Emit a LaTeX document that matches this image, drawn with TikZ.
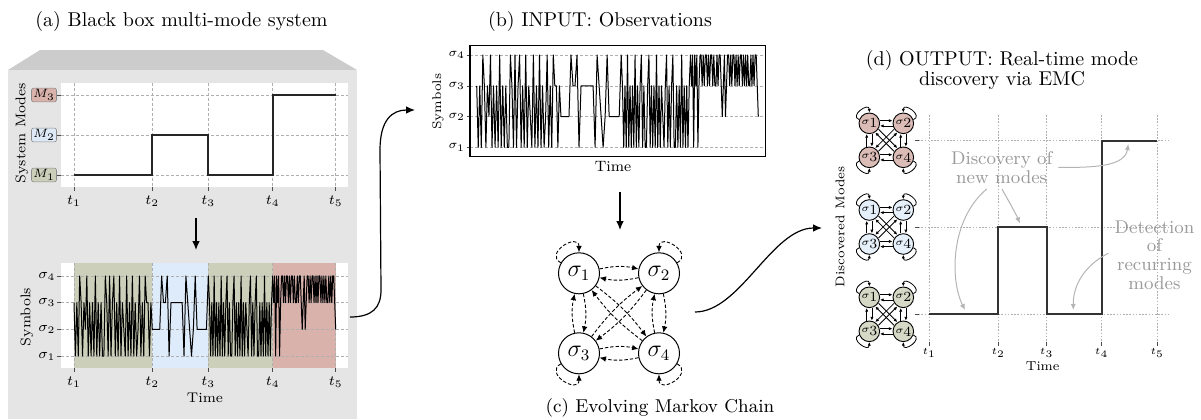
\documentclass[tikz,border=0pt]{standalone}
\usetikzlibrary{arrows.meta}
\definecolor{boxtop}{HTML}{CCCCCC}
\definecolor{boxbg}{HTML}{E5E5E5}
\definecolor{bandG}{HTML}{CCD0BA}
\definecolor{bandB}{HTML}{DEEBFA}
\definecolor{bandR}{HTML}{D9B2AC}
\definecolor{labG}{HTML}{CBCFB9}
\definecolor{labB}{HTML}{DDE9F6}
\definecolor{labR}{HTML}{D9B2AC}
\definecolor{gridc}{HTML}{AFAFAF}
\definecolor{annot}{HTML}{9A9A9A}
\definecolor{arrowg}{HTML}{B4B4B4}
\definecolor{miniR}{HTML}{DCBCB6}
\definecolor{miniB}{HTML}{E6F0FB}
\definecolor{miniG}{HTML}{D5D9C5}

\def\segA{3,1,3,1,4,3,1,3,2,4,1,3,1,3,1,4,1,3,1,3,1,1,4,3,1,4,1,3,4,1,3,1,4,1,3,2,1,4,1,3,1,4,1,3,1,2,4,1,3,1,4,3,3,1,3}
\def\segB{2,2,2,2,2,4,3,3,4,1,3,3,3,3,3,3,3,1,4,3,2,1,2,4,2,2,2,2,2,2}
\def\segC{4,3,1,3,1,4,1,3,1,3,1,4,1,3,1,3,4,1,3,1,1,3,4,1,3,1,3,1,4,1,3,1,3,2,1,3,4,1,3,1,3,4,1,1,3,1,3,1,4,1,3,1,3,1,3}
\def\segD{4,3,4,1,4,3,4,1,3,4,4,3,4,3,4,4,3,4,3,4,4,3,4,3,3,4,3,4,4,3,2,3,4,2,3,4,4,3,4,3,4,4,3,4,3,4,3,4,4,3,4,3,4,3,4,3,3,4,3,4,3,4,4,3,2}

\newcommand\cntlist[2]{\foreach \q [count=\c] in #2 {\xdef#1{\c}}}

\newcommand\drawsignal[7]{%
  \pgfmathsetmacro\dxa{(#2-#1)/\nA}%
  \pgfmathsetmacro\dxb{(#3-#2)/\nB}%
  \pgfmathsetmacro\dxc{(#4-#3)/\nC}%
  \pgfmathsetmacro\dxd{(#5-#4)/(\nD-1)}%
  \draw[sigline] (#1,{2*#7-#6})
    \foreach \v [count=\k] in \segA { -- ({#1+(\k-1)*\dxa},{(\v-1)*#7-#6}) }
    \foreach \v [count=\k] in \segB { -- ({#2+(\k-1)*\dxb},{(\v-1)*#7-#6}) }
    \foreach \v [count=\k] in \segC { -- ({#3+(\k-1)*\dxc},{(\v-1)*#7-#6}) }
    \foreach \v [count=\k] in \segD { -- ({#4+(\k-1)*\dxd},{(\v-1)*#7-#6}) };
}

\newcommand\mlab[1]{{\fontsize{5}{5}\selectfont\raisebox{1.5pt}{$\sigma$}}\kern-0.2pt{\fontsize{7}{7}\selectfont #1}}

\newcommand\minichain[4]{%
  \node[mini, fill=#4] (#1a) at (#2,-#3) {\mlab{1}};
  \node[mini, fill=#4] (#1b) at ({#2+34},-#3) {\mlab{2}};
  \node[mini, fill=#4] (#1c) at (#2,{-(#3+34)}) {\mlab{3}};
  \node[mini, fill=#4] (#1d) at ({#2+34},{-(#3+34)}) {\mlab{4}};
  \draw[miniedge] ([yshift=1.3pt]#1a.east) -- ([yshift=1.3pt]#1b.west);
  \draw[miniedge] ([yshift=-1.3pt]#1b.west) -- ([yshift=-1.3pt]#1a.east);
  \draw[miniedge] ([yshift=1.3pt]#1c.east) -- ([yshift=1.3pt]#1d.west);
  \draw[miniedge] ([yshift=-1.3pt]#1d.west) -- ([yshift=-1.3pt]#1c.east);
  \draw[miniedge] ([xshift=-1.3pt]#1c.north) -- ([xshift=-1.3pt]#1a.south);
  \draw[miniedge] ([xshift=1.3pt]#1a.south) -- ([xshift=1.3pt]#1c.north);
  \draw[miniedge] ([xshift=-1.3pt]#1d.north) -- ([xshift=-1.3pt]#1b.south);
  \draw[miniedge] ([xshift=1.3pt]#1b.south) -- ([xshift=1.3pt]#1d.north);
  \draw[miniedge] ([shift={(0.8pt,0.8pt)}]#1a.-45) -- ([shift={(0.8pt,0.8pt)}]#1d.135);
  \draw[miniedge] ([shift={(-0.8pt,-0.8pt)}]#1d.135) -- ([shift={(-0.8pt,-0.8pt)}]#1a.-45);
  \draw[miniedge] ([shift={(-0.8pt,0.8pt)}]#1b.-135) -- ([shift={(-0.8pt,0.8pt)}]#1c.45);
  \draw[miniedge] ([shift={(0.8pt,-0.8pt)}]#1c.45) -- ([shift={(0.8pt,-0.8pt)}]#1b.-135);
  \draw[miniedge] (#1a.160) .. controls +(160:11) and +(90:11) .. (#1a.90);
  \draw[miniedge] (#1b.20) .. controls +(20:11) and +(90:11) .. (#1b.90);
  \draw[miniedge] (#1c.200) .. controls +(200:11) and +(270:11) .. (#1c.270);
  \draw[miniedge] (#1d.340) .. controls +(340:11) and +(270:11) .. (#1d.270);
}

\begin{document}
\begin{tikzpicture}[x=0.5pt,y=0.5pt,
  gridline/.style={draw=gridc, line width=0.4pt, dash pattern=on 1.5pt off 1pt},
  dotgrid/.style={draw=gridc, line width=0.4pt, dash pattern=on 0.8pt off 0.8pt},
  tickmark/.style={draw=black!70, line width=0.4pt},
  sigline/.style={draw=black, line width=0.5pt, line join=round},
  stepline/.style={draw=black!85, line width=0.9pt},
  ticklab/.style={font=\fontsize{7}{8}\selectfont, inner sep=0pt},
  axlab/.style={font=\fontsize{7}{8}\selectfont, inner sep=0pt},
  modelab/.style={draw=black!45, line width=0.3pt, rounded corners=1pt, inner sep=0.8pt, font=\fontsize{6.5}{7}\selectfont, minimum height=6.2pt, minimum width=10pt},
  ptitle/.style={font=\fontsize{10}{12}\selectfont, anchor=base, inner sep=0pt},
  bigarrow/.style={-{Latex[length=4.5pt,width=3.8pt]}, line width=0.6pt},
  mcstate/.style={circle, draw, line width=0.5pt, minimum size=20.5pt, inner sep=0pt, font=\large},
  mcedge/.style={-{Latex[length=3.2pt,width=2.8pt]}, line width=0.45pt, dash pattern=on 1.7pt off 1pt},
  mini/.style={circle, draw, line width=0.45pt, minimum size=10.3pt, inner sep=0pt},
  miniedge/.style={-{Latex[length=1.8pt,width=1.6pt]}, line width=0.4pt},
  annotext/.style={text=annot, font=\fontsize{9.2}{9.5}\selectfont, anchor=base, inner sep=0pt},
  annoarrow/.style={draw=arrowg, line width=0.5pt, -{Latex[length=3pt,width=2.6pt]}},
]
\useasboundingbox (0,0) rectangle (1201,-419);
\cntlist\nA\segA
\cntlist\nB\segB
\cntlist\nC\segC
\cntlist\nD\segD

% ================= (a) =================
\node[ptitle] (tta) at (181.5,-26) {(a) Black box multi-mode system};
\fill[boxtop] (40,-50) -- (323,-50) -- (357,-70) -- (8,-70) -- cycle;
\fill[boxbg] (8,-70) rectangle (357,-419);

% top plot
\fill[white] (61,-82.7) rectangle (348,-186.7);
\foreach \x in {74,152.3,208.3,272.7,335.7} {
  \draw[gridline] (\x,-82.7) -- (\x,-186.7);
  \draw[tickmark] (\x,-186.7) -- (\x,-190.5);
}
\foreach \y in {95,135,175} {
  \draw[gridline] (61,-\y) -- (348,-\y);
  \draw[tickmark] (57,-\y) -- (61,-\y);
}
\foreach \x [count=\tn] in {74,152.3,208.3,272.7,335.7}
  \node[ticklab] (atl\tn) at (\x,-201) {$t_{\tn}$};
\node[modelab, fill=labR] (m3) at (44,-95) {$M_3$};
\node[modelab, fill=labB] (m2) at (44,-135) {$M_2$};
\node[modelab, fill=labG] (m1) at (44,-175) {$M_1$};
\node[axlab, rotate=90] (asys) at (22,-133) {System Modes};
\draw[stepline] (74,-175) -- (152.3,-175) -- (152.3,-135) -- (208.3,-135) -- (208.3,-175)
  -- (272.7,-175) -- (272.7,-95) -- (335.7,-95);

\coordinate (adn1) at (196,-218);
\coordinate (adn2) at (196,-250);
\draw[bigarrow] (adn1) -- (adn2);

% bottom plot
\fill[white] (61,-263) rectangle (348,-368);
\fill[bandG] (74,-263) rectangle (152.3,-368);
\fill[bandB] (152.3,-263) rectangle (208.3,-368);
\fill[bandG] (208.3,-263) rectangle (272.7,-368);
\fill[bandR] (272.7,-263) rectangle (335.7,-368);
\foreach \x in {74,152.3,208.3,272.7,335.7} {
  \draw[gridline] (\x,-263) -- (\x,-368);
  \draw[tickmark] (\x,-368) -- (\x,-371.5);
}
\foreach \y [count=\tn] in {356,329.3,302.7,276} {
  \draw[gridline] (61,-\y) -- (348,-\y);
  \draw[tickmark] (57,-\y) -- (61,-\y);
  \node[ticklab] (asl\tn) at (47,-\y) {$\sigma_{\tn}$};
}
\drawsignal{74}{152.3}{208.3}{272.7}{335.7}{356}{26.67}
\foreach \x [count=\tn] in {74,152.3,208.3,272.7,335.7}
  \node[ticklab] (abl\tn) at (\x,-381.7) {$t_{\tn}$};
\node[axlab] (atime) at (205,-398) {Time};
\node[axlab, rotate=90] (asym) at (27,-317) {Symbols};

\coordinate (ab1) at (350,-317);
\coordinate (ab2) at (415,-110);
\draw[bigarrow] (ab1) .. controls (372,-317) and (381,-308) .. (381,-290)
  -- (380,-150) .. controls (380,-120) and (392,-110) .. (ab2);

% ================= (b) =================
\node[ptitle] (ttb) at (600,-26) {(b) INPUT: Observations};
\foreach \y [count=\tn] in {147.3,116.7,86,55} {
  \draw[gridline] (470,-\y) -- (765.7,-\y);
  \draw[tickmark] (466.5,-\y) -- (470,-\y);
  \node[font=\fontsize{6.5}{7}\selectfont, inner sep=0pt] (bsl\tn) at (456.7,-\y) {$\sigma_{\tn}$};
}
\drawsignal{476.7}{560.95}{621.2}{690.5}{758.3}{147.3}{30.77}
\draw[line width=0.6pt] (470,-45.7) rectangle (765.7,-156.7);
\node[font=\fontsize{6.3}{7}\selectfont, inner sep=0pt, rotate=90] (bsym) at (438,-101.7) {Symbols};
\node[font=\fontsize{7.5}{8}\selectfont, inner sep=0pt] (btime) at (613,-166.7) {Time};

\coordinate (bc1) at (620,-191.7);
\coordinate (bc2) at (620,-230);
\draw[bigarrow] (bc1) -- (bc2);

% ================= (c) =================
\node[mcstate] (s1) at (579,-273.3) {$\sigma_1$};
\node[mcstate] (s2) at (659,-273.3) {$\sigma_2$};
\node[mcstate] (s3) at (579,-353.3) {$\sigma_3$};
\node[mcstate] (s4) at (659,-353.3) {$\sigma_4$};
\draw[mcedge] (s1) to[bend left=12] (s2);
\draw[mcedge] (s2) to[bend left=12] (s1);
\draw[mcedge] (s3) to[bend left=12] (s4);
\draw[mcedge] (s4) to[bend left=12] (s3);
\draw[mcedge] (s1) to[bend left=12] (s3);
\draw[mcedge] (s3) to[bend left=12] (s1);
\draw[mcedge] (s2) to[bend left=12] (s4);
\draw[mcedge] (s4) to[bend left=12] (s2);
\draw[mcedge] (s1) to[bend left=8] (s4);
\draw[mcedge] (s4) to[bend left=8] (s1);
\draw[mcedge] (s2) to[bend left=8] (s3);
\draw[mcedge] (s3) to[bend left=8] (s2);
\draw[mcedge] (s1.150) .. controls +(150:20) and +(90:20) .. (s1.90);
\draw[mcedge] (s2.30) .. controls +(30:20) and +(90:20) .. (s2.90);
\draw[mcedge] (s3.210) .. controls +(210:20) and +(270:20) .. (s3.270);
\draw[mcedge] (s4.330) .. controls +(330:20) and +(270:20) .. (s4.270);
\node[font=\fontsize{9.3}{11}\selectfont, anchor=base, inner sep=0pt] (ttc) at (660,-412) {(c) Evolving Markov Chain};

\coordinate (cd1) at (695,-312);
\coordinate (cd2) at (822,-228);
\draw[bigarrow] (cd1) .. controls (740,-312) and (772,-228) .. (cd2);

% ================= (d) =================
\node[ptitle] (ttd1) at (1002,-65) {(d) OUTPUT: Real-time mode};
\node[ptitle] (ttd2) at (1002,-85) {discovery via EMC};

\foreach \x [count=\tn] in {929.3,998.3,1046.7,1101.7,1157.3} {
  \draw[dotgrid] (\x,-115) -- (\x,-341.5);
  \draw[tickmark] (\x,-341.5) -- (\x,-345.5);
  \node[font=\fontsize{5.2}{6}\selectfont, inner sep=0pt] (dtl\tn) at (\x,-352.7) {$t_{\tn}$};
}
\foreach \y in {140.7,227.3,314} {
  \draw[dotgrid] (915,-\y) -- (1168.3,-\y);
  \draw[tickmark] (915,-\y) -- (919,-\y);
}
\draw[line width=0.9pt, draw=black!80] (929.3,-314) -- (998.3,-314) -- (998.3,-227.3) -- (1046.7,-227.3)
  -- (1046.7,-314) -- (1101.7,-314) -- (1101.7,-140.7) -- (1157.3,-140.7);
\node[font=\fontsize{6.5}{7}\selectfont, inner sep=0pt] (dtime) at (1042.7,-366) {Time};
\node[font=\fontsize{6.3}{7}\selectfont, inner sep=0pt, rotate=90] (dmodes) at (840,-226.7) {Discovered Modes};

\minichain{r}{869.3}{123.3}{miniR}
\minichain{u}{869.3}{210}{miniB}
\minichain{g}{869.3}{297.3}{miniG}

\node[annotext] (d1) at (1001.7,-164) {Discovery of};
\node[annotext] (d2) at (1001.7,-183.5) {new modes};
\node[annotext] (e1) at (1154.5,-233.3) {Detection};
\node[annotext] (e2) at (1154.5,-251.7) {of};
\node[annotext] (e3) at (1154.5,-270.5) {recurring};
\node[annotext] (e4) at (1154.5,-289.3) {modes};

\coordinate (q1s) at (986.7,-189);
\coordinate (q1e) at (965,-310);
\coordinate (q2s) at (1002,-189);
\coordinate (q2e) at (1020,-223.3);
\coordinate (q3s) at (1058.3,-167.3);
\coordinate (q3e) at (1128.3,-144);
\coordinate (q4s) at (1108.3,-253.3);
\coordinate (q4e) at (1073.3,-310);
\draw[annoarrow] (q1s) .. controls (950,-220) and (950,-280) .. (q1e);
\draw[annoarrow] (q2s) .. controls (1008,-200) and (1015,-212) .. (q2e);
\draw[annoarrow] (q3s) .. controls (1100,-168) and (1125,-165) .. (q3e);
\draw[annoarrow] (q4s) .. controls (1085,-265) and (1073,-285) .. (q4e);
\end{tikzpicture}
\end{document}
